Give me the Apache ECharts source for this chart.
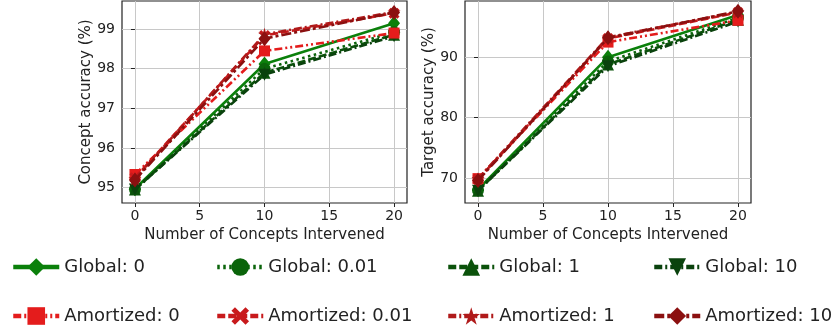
<!DOCTYPE html>
<html>
<head>
<meta charset="utf-8">
<script src="https://cdn.jsdelivr.net/npm/echarts@6/dist/echarts.min.js"></script>
<style>
  html, body { margin: 0; padding: 0; background: #fff; }
  #chart { width: 836px; height: 335px; }
</style>
</head>
<body>
<div id="chart"></div>
<script>
// number of concepts intervened
const interventions = [0, 10, 20];
const xTicks = [0, 5, 10, 15, 20];

const seriesNames = [
  "Global: 0", "Global: 0.01", "Global: 1", "Global: 10",
  "Amortized: 0", "Amortized: 0.01", "Amortized: 1", "Amortized: 10"
];

// concept accuracy (%), one row per series
const conceptAcc = [
  [94.97, 98.12, 99.15],
  [94.96, 98.00, 98.92],
  [94.95, 97.90, 98.86],
  [94.95, 97.85, 98.82],
  [95.33, 98.45, 98.90],
  [95.25, 98.84, 99.40],
  [95.22, 98.87, 99.43],
  [95.19, 98.76, 99.42]
];
const conceptSpread = [
  [0.03, 0.05, 0.06],
  [0.03, 0.06, 0.08],
  [0.03, 0.07, 0.10],
  [0.03, 0.07, 0.10],
  [0.04, 0.06, 0.12],
  [0.04, 0.05, 0.04],
  [0.04, 0.05, 0.04],
  [0.04, 0.05, 0.04]
];
const conceptTicks = [95, 96, 97, 98, 99];

// target accuracy (%)
const targetAcc = [
  [68.1, 90.0, 97.0],
  [68.0, 89.3, 96.5],
  [67.9, 88.8, 96.2],
  [67.9, 88.5, 95.9],
  [69.9, 92.5, 96.1],
  [69.8, 93.1, 97.4],
  [69.9, 93.3, 97.5],
  [69.6, 93.2, 97.6]
];
const targetSpread = [
  [0.4, 0.5, 0.5],
  [0.4, 0.6, 0.5],
  [0.4, 0.6, 0.5],
  [0.4, 0.6, 0.5],
  [0.5, 0.6, 0.5],
  [0.5, 0.6, 0.5],
  [0.5, 0.6, 0.5],
  [0.5, 0.6, 0.5]
];
const targetTicks = [70, 80, 90];

const STAR = "path://M5,0 L6.18,3.8 L10,3.8 L6.9,6.2 L8.1,10 L5,7.6 L1.9,10 L3.1,6.2 L0,3.8 L3.82,3.8 Z";
const CROSS = "path://M2,0 L5,3 L8,0 L10,2 L7,5 L10,8 L8,10 L5,7 L2,10 L0,8 L3,5 L0,2 Z";
const TRI_DOWN = "path://M0,0 L10,0 L5,9 Z";

const looks = [
  { color: "#0b800b", dash: "solid", symbol: "diamond", size: [12, 15] },
  { color: "#0a640a", dash: [2.5, 3.5], symbol: "circle", size: 12 },
  { color: "#0b520b", dash: [8, 3], symbol: "triangle", size: 12 },
  { color: "#0a420d", dash: [8, 3, 2, 3], symbol: TRI_DOWN, size: 12 },
  { color: "#e41c1c", dash: [8, 3, 2, 3, 2, 3], symbol: "rect", size: 11 },
  { color: "#c81a1c", dash: [8, 3], symbol: CROSS, size: 11 },
  { color: "#b01a1a", dash: [8, 3, 2, 3], symbol: STAR, size: 13 },
  { color: "#8b1010", dash: [10, 3, 3, 3], symbol: "diamond", size: [12, 15] }
];

const textColor = "#222";
const font = "DejaVu Sans";

function panelSeries(values, spread, idx) {
  const out = [];
  values.forEach((row, i) => {
    const lk = looks[i];
    const stack = "band" + idx + "_" + i;
    out.push({
      name: "band-lo-" + idx + "-" + i, type: "line", stack, silent: true,
      xAxisIndex: idx, yAxisIndex: idx, symbol: "none", z: 1,
      lineStyle: { opacity: 0 },
      data: interventions.map((x, k) => [x, row[k] - spread[i][k]])
    });
    out.push({
      name: "band-hi-" + idx + "-" + i, type: "line", stack, silent: true,
      xAxisIndex: idx, yAxisIndex: idx, symbol: "none", z: 1,
      lineStyle: { opacity: 0 },
      areaStyle: { color: lk.color, opacity: 0.14 },
      data: interventions.map((x, k) => [x, 2 * spread[i][k]])
    });
  });
  values.forEach((row, i) => {
    const lk = looks[i];
    out.push({
      name: seriesNames[i], type: "line",
      xAxisIndex: idx, yAxisIndex: idx, z: 3 + i,
      symbol: lk.symbol, symbolSize: lk.size,
      itemStyle: { color: lk.color },
      lineStyle: { color: lk.color, width: 2.6, type: lk.dash },
      emphasis: { disabled: true },
      data: interventions.map((x, k) => [x, row[k]])
    });
  });
  return out;
}

function xAxis(idx) {
  return {
    type: "value", gridIndex: idx, min: -1, max: 21,
    name: "Number of Concepts Intervened", nameLocation: "middle", nameGap: 19,
    nameTextStyle: { fontFamily: font, fontSize: 15, color: textColor },
    axisLine: { show: false },
    axisTick: { show: true, customValues: xTicks, length: 4, lineStyle: { color: textColor } },
    axisLabel: { customValues: xTicks, fontFamily: font, fontSize: 14, color: textColor, margin: 6 },
    splitLine: { show: true, lineStyle: { color: "#c8c8c8", width: 1 } }
  };
}

function yAxis(idx, min, max, ticks, name, gap) {
  return {
    type: "value", gridIndex: idx, min, max,
    name, nameLocation: "middle", nameGap: gap,
    nameTextStyle: { fontFamily: font, fontSize: 15, color: textColor },
    axisLine: { show: false },
    axisTick: { show: true, customValues: ticks, length: 4, lineStyle: { color: textColor } },
    axisLabel: { customValues: ticks, fontFamily: font, fontSize: 14, color: textColor, margin: 7 },
    splitLine: { show: true, lineStyle: { color: "#c8c8c8", width: 1 } }
  };
}

// legend: two rows of four, placed one by one
const legendLefts = [11, 215, 446, 652];
const legendTops = [258, 307];
const legends = seriesNames.map((n, i) => ({
  data: [n],
  left: legendLefts[i % 4],
  top: legendTops[Math.floor(i / 4)],
  padding: 0,
  itemWidth: 46, itemHeight: 22, itemGap: 0,
  selectedMode: false,
  lineStyle: { width: 4.5 },
  textStyle: { fontFamily: font, fontSize: 18, color: textColor }
}));

const chart = echarts.init(document.getElementById("chart"));
chart.setOption({
  backgroundColor: "#fff",
  animation: false,
  grid: [
    { left: 122, right: 429, top: 1, bottom: 132, show: true, borderColor: "#222", borderWidth: 1.2 },
    { left: 465, right: 85, top: 1, bottom: 132, show: true, borderColor: "#222", borderWidth: 1.2 }
  ],
  xAxis: [xAxis(0), xAxis(1)],
  yAxis: [
    yAxis(0, 94.61, 99.71, conceptTicks, "Concept accuracy (%)", 25),
    yAxis(1, 65.87, 99.3, targetTicks, "Target accuracy (%)", 27)
  ],
  legend: legends,
  series: [
    ...panelSeries(conceptAcc, conceptSpread, 0),
    ...panelSeries(targetAcc, targetSpread, 1)
  ]
});
</script>
</body>
</html>
